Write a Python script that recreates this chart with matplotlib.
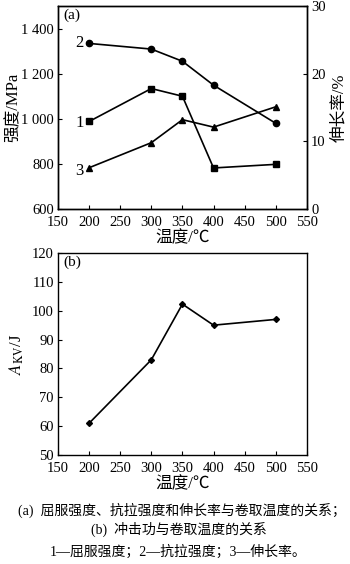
"""
Strength, elongation and impact energy vs coiling temperature
"""

import matplotlib
matplotlib.use('Agg')
import matplotlib.pyplot as plt

# ---------------------------------------------------------------------------- #
# Data
# ---------------------------------------------------------------------------- #
temps = [200, 300, 350, 400, 500]
yield_strength = [988, 1134, 1100, 782, 798]      # curve 1, MPa
tensile_strength = [1334, 1309, 1255, 1149, 980]  # curve 2, MPa
elongation = [6.1, 9.8, 13.2, 12.1, 15.1]         # curve 3, %
impact_energy = [61, 83, 102.3, 95, 97]           # A_KV, J

x_ticks = [150, 200, 250, 300, 350, 400, 450, 500, 550]
strength_ticks = [600, 800, 1000, 1200, 1400]
strength_labels = ['600', '800', '1 000', '1 200', '1 400']
elong_ticks = [0, 10, 20, 30]
impact_ticks = [50, 60, 70, 80, 90, 100, 110, 120]

captions = ['(a)  屈服强度、抗拉强度和伸长率与卷取温度的关系；',
            '(b)  冲击功与卷取温度的关系',
            '1—屈服强度；2—抗拉强度；3—伸长率。']

# ---------------------------------------------------------------------------- #
# Style
# ---------------------------------------------------------------------------- #
plt.rcParams['font.family'] = ['Liberation Serif', 'Noto Sans CJK SC']
plt.rcParams['font.size'] = 10.5
plt.rcParams['mathtext.fontset'] = 'stix'
plt.rcParams['axes.linewidth'] = 1.0

label_size = 12

fig = plt.figure(figsize=(3.5, 5.64), dpi=100)
ax_a = fig.add_axes([0.1657, 0.6294, 0.711, 0.36])
ax_b = fig.add_axes([0.1657, 0.1933, 0.711, 0.358])


def style_ax(ax):
    ax.tick_params(direction='in', length=3, width=0.8, pad=3, labelsize=10.5)
    ax.tick_params(axis='x', pad=5)
    ax.set_xlim(150, 550)
    ax.set_xticks(x_ticks)
    ax.set_xlabel('温度/℃', labelpad=1, fontsize=label_size)


# ---------------------------------------------------------------------------- #
# (a) strength and elongation
# ---------------------------------------------------------------------------- #
style_ax(ax_a)
ax_a.plot(temps, yield_strength, color='black', lw=1.2, marker='s', ms=4.5)
ax_a.plot(temps, tensile_strength, color='black', lw=1.2, marker='o', ms=4.5)
ax_a.set_ylim(600, 1500)
ax_a.set_yticks(strength_ticks)
ax_a.set_yticklabels(strength_labels)
ax_a.set_ylabel('强度/MPa', labelpad=0, fontsize=label_size)
ax_a.text(0.02, 0.955, '(a)', transform=ax_a.transAxes, ha='left', va='center',
          fontsize=11)
ax_a.text(185, 1334, '2', ha='center', va='center', fontsize=12)
ax_a.text(185, 980, '1', ha='center', va='center', fontsize=12)
ax_a.text(185, 770, '3', ha='center', va='center', fontsize=12)

ax_r = ax_a.twinx()
ax_r.plot(temps, elongation, color='black', lw=1.2, marker='^', ms=4.5)
ax_r.set_ylim(0, 30)
ax_r.set_yticks(elong_ticks)
ax_r.tick_params(direction='in', length=3, width=0.8, pad=3, labelsize=10.5)
ax_r.set_ylabel('伸长率/%', labelpad=4, fontsize=label_size)

# ---------------------------------------------------------------------------- #
# (b) impact energy
# ---------------------------------------------------------------------------- #
style_ax(ax_b)
ax_b.plot(temps, impact_energy, color='black', lw=1.2, marker='D', ms=3)
ax_b.set_ylim(50, 120)
ax_b.set_yticks(impact_ticks)
ax_b.set_ylabel(r'$A_{\mathrm{KV}}$/J', labelpad=4, fontsize=label_size)
ax_b.text(0.02, 0.955, '(b)', transform=ax_b.transAxes, ha='left', va='center',
          fontsize=11)

# ---------------------------------------------------------------------------- #
# Captions
# ---------------------------------------------------------------------------- #
fig.text(0.52, 1 - 510 / 564, captions[0], ha='center', va='center', fontsize=10)
fig.text(0.51, 1 - 529 / 564, captions[1], ha='center', va='center', fontsize=10)
fig.text(0.51, 1 - 552 / 564, captions[2], ha='center', va='center', fontsize=10)

fig.savefig('out.png', dpi=100)
plt.close()
